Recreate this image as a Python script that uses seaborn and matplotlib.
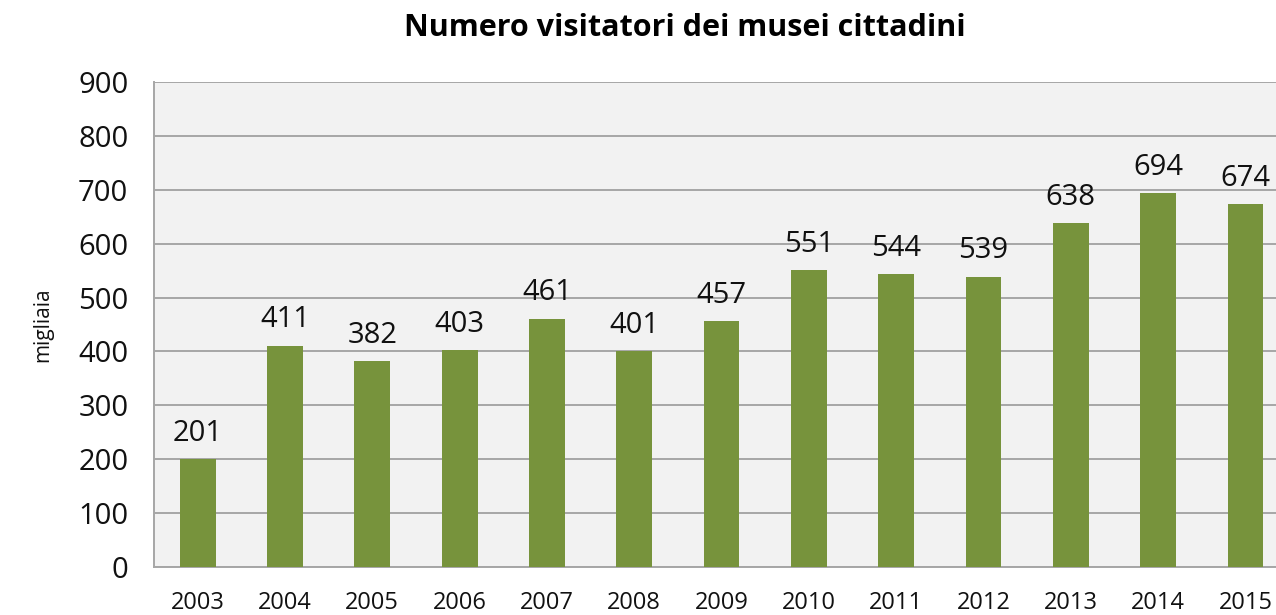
import numpy as np
import pandas as pd
import matplotlib
matplotlib.use('Agg')
import matplotlib.pyplot as plt
import seaborn as sns

# dati: visitatori dei musei (migliaia)
anni = ['2003', '2004', '2005', '2006', '2007', '2008', '2009',
        '2010', '2011', '2012', '2013', '2014', '2015']
visitatori = [201, 411, 382, 403, 461, 401, 457, 551, 544, 539, 638, 694, 674]
y_ticks = [0, 100, 200, 300, 400, 500, 600, 700, 800, 900]

df = pd.DataFrame({'anno': anni, 'visitatori': visitatori})

sns.set_style('white')
plt.rcParams['font.family'] = ['Open Sans', 'DejaVu Sans']

fig = plt.figure(figsize=(12.76, 6.15), dpi=100)
# l'area del grafico esce a destra come nell'originale
ax = fig.add_axes([0.1207, 0.078, 0.8896, 0.7886])
ax.set_facecolor('#F2F2F2')

sns.barplot(data=df, x='anno', y='visitatori', color='#77933C',
            saturation=1, width=0.41, linewidth=0, ax=ax, zorder=3)

for c in ax.containers:
    ax.bar_label(c, labels=[str(v) for v in visitatori], padding=8,
                 fontsize=21, color='#111111')

ax.set_ylim(0, 900)
ax.set_xlim(-0.5, len(anni) - 0.5)
ax.set_yticks(y_ticks)
ax.yaxis.grid(True, color='#A6A6A6', linewidth=1.4, zorder=0)
ax.set_axisbelow(True)

# tacche sui confini delle categorie
ax.set_xticks(np.arange(len(anni) + 1) - 0.5, minor=True)
ax.tick_params(axis='x', which='major', length=0, pad=17, labelsize=17, labelcolor='#111111')
ax.tick_params(axis='x', which='minor', length=7, width=1.2, color='#A6A6A6', direction='out')
ax.tick_params(axis='y', length=6.5, width=1.2, color='#A6A6A6', pad=12,
               labelsize=21, labelcolor='#111111', direction='out')

for s in ['top', 'right']:
    ax.spines[s].set_visible(False)
for s in ['left', 'bottom']:
    ax.spines[s].set_color('#A6A6A6')
    ax.spines[s].set_linewidth(1.4)

ax.set_xlabel('')
ax.set_ylabel('migliaia', fontsize=15, labelpad=18, color='#111111')
fig.text(0.537, 0.955, 'Numero visitatori dei musei cittadini', ha='center', va='center',
         fontsize=22, fontweight='bold', color='black')

fig.savefig('out.png', dpi=100)
